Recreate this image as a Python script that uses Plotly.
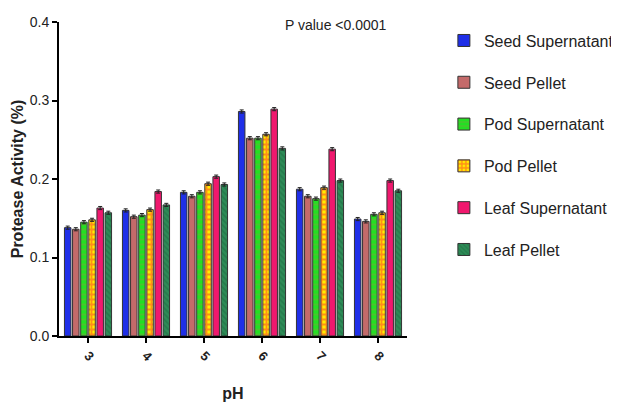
import plotly.graph_objects as go

categories = ["3", "4", "5", "6", "7", "8"]
series_names = ["Seed Supernatant", "Seed Pellet", "Pod Supernatant",
                "Pod Pellet", "Leaf Supernatant", "Leaf Pellet"]
seed_sup = [0.138, 0.160, 0.183, 0.286, 0.187, 0.149]
seed_pel = [0.136, 0.152, 0.178, 0.252, 0.178, 0.146]
pod_sup = [0.145, 0.154, 0.183, 0.252, 0.175, 0.155]
pod_pel = [0.148, 0.161, 0.194, 0.257, 0.189, 0.157]
leaf_sup = [0.163, 0.184, 0.203, 0.289, 0.238, 0.198]
leaf_pel = [0.157, 0.167, 0.193, 0.239, 0.198, 0.185]
errors = [0.002, 0.002, 0.002, 0.002, 0.002, 0.002]

values = [seed_sup, seed_pel, pod_sup, pod_pel, leaf_sup, leaf_pel]
colors = ["#1f2fe8", "#c46a6a", "#22e022", "#ffee00", "#f0186e", "#2e8b57"]
patterns = [
    dict(shape=""),
    dict(shape=""),
    dict(shape="-", fgcolor="#7aa040", size=5, solidity=0.35),
    dict(shape="+", fgcolor="#ff3030", bgcolor="#ffee00", size=5, solidity=0.6),
    dict(shape=""),
    dict(shape="\\", fgcolor="#1c6a40", size=4, solidity=0.4),
]

fig = go.Figure()
for i, (name, vals) in enumerate(zip(series_names, values)):
    fig.add_trace(go.Bar(
        x=categories, y=vals, name=name, legendgroup=name,
        marker=dict(color=colors[i], line=dict(color="#333333", width=1),
                    pattern=patterns[i]),
        error_y=dict(type="data", array=errors, color="#222222",
                     thickness=1, width=2),
    ))

font_family = "Liberation Sans Narrow, Liberation Sans, Arial, sans-serif"
fig.update_layout(
    width=611, height=395,
    barmode="group", bargap=0.16, bargroupgap=0.2,
    plot_bgcolor="white", paper_bgcolor="white",
    margin=dict(l=51, r=212, t=14, b=67, autoexpand=False),
    font=dict(family=font_family, color="#222222", size=13),
    legend=dict(x=1.106, y=0.995, xanchor="left", yanchor="top",
                font=dict(size=16, family=font_family, color="#222222"),
                tracegroupgap=18, itemwidth=30, maxheight=1.0),
    showlegend=True,
    annotations=[dict(text="P value <0.0001", x=0.796, y=0.99, xref="paper",
                      yref="paper", xanchor="center", yanchor="middle",
                      showarrow=False,
                      font=dict(size=14, family=font_family, color="#222222"))],
)
fig.update_xaxes(
    type="category", range=[-0.5, 5.5], automargin=False,
    showline=True, linecolor="black", linewidth=2,
    ticks="outside", ticklen=5, tickcolor="black", tickwidth=1.5,
    tickangle=45, tickfont=dict(size=13, weight="bold"),
    title=dict(text="pH", font=dict(size=16, weight="bold"), standoff=24),
)
fig.update_yaxes(
    range=[0, 0.4], dtick=0.1, tickformat=".1f", automargin=False,
    showline=True, linecolor="black", linewidth=2,
    ticks="outside", ticklen=5, tickcolor="black", tickwidth=1.5,
    showgrid=False, zeroline=False,
    tickfont=dict(size=14, color="#222222"),
    title=dict(text="Protease Activity (%)", font=dict(size=16, weight="bold"),
               standoff=2),
)

fig.write_html("out.html")
